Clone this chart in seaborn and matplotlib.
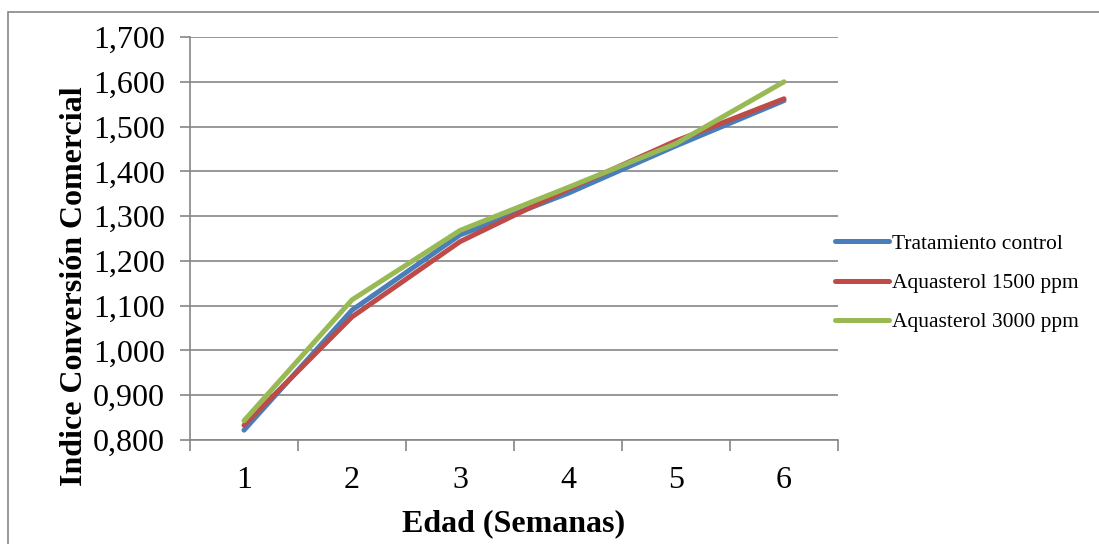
import matplotlib
matplotlib.use("Agg")
import matplotlib.pyplot as plt
import matplotlib.ticker as mticker
from matplotlib.patches import Rectangle
from matplotlib.lines import Line2D
import seaborn as sns
import pandas as pd

weeks = [1, 2, 3, 4, 5, 6]
series_names = ["Tratamiento control", "Aquasterol 1500 ppm", "Aquasterol 3000 ppm"]
control = [0.822, 1.090, 1.258, 1.351, 1.457, 1.558]
aq1500 = [0.833, 1.075, 1.243, 1.360, 1.468, 1.562]
aq3000 = [0.843, 1.113, 1.268, 1.364, 1.462, 1.600]
colors = ["#4A7EBB", "#BE4B48", "#98B954"]
y_ticks = [0.8, 0.9, 1.0, 1.1, 1.2, 1.3, 1.4, 1.5, 1.6, 1.7]

rows = []
for name, vals in zip(series_names, [control, aq1500, aq3000]):
    for w, v in zip(weeks, vals):
        rows.append({"Semana": w, "Valor": v, "Serie": name})
df = pd.DataFrame(rows)

sns.set_theme(style="white")
plt.rcParams["font.family"] = ["Liberation Serif", "DejaVu Serif"]
plt.rcParams["text.color"] = "black"
plt.rcParams["axes.labelcolor"] = "black"
plt.rcParams["xtick.color"] = "black"
plt.rcParams["ytick.color"] = "black"

fig = plt.figure(figsize=(10.99, 5.44), dpi=100)
ax = fig.add_axes([190/1099, 1-440/544, (838-190)/1099, (440-37)/544])

sns.lineplot(data=df, x="Semana", y="Valor", hue="Serie", palette=colors,
             hue_order=series_names, linewidth=3.6, ax=ax, legend=False,
             solid_capstyle="round", solid_joinstyle="round")

ax.set_xlim(0.5, 6.5)
ax.set_ylim(0.8, 1.7)
ax.set_yticks(y_ticks)
ax.yaxis.set_major_formatter(mticker.FuncFormatter(lambda v, p: f"{v:.3f}".replace(".", ",")))
ax.set_xticks([0.5 + i for i in range(7)])
ax.set_xticklabels([])
ax.set_xticks(weeks, minor=True)
ax.set_xticklabels([str(w) for w in weeks], minor=True)
ax.tick_params(axis="x", which="minor", length=0, pad=19, labelsize=23, labelcolor="black")
ax.tick_params(axis="x", which="major", length=8, width=1.2, color="#868686", direction="out", bottom=True)
ax.tick_params(axis="y", length=7, width=1.2, color="#868686", direction="out", left=True, pad=11,
               labelsize=23, labelcolor="black")

ax.grid(axis="y", color="#868686", linewidth=1.2)
ax.grid(axis="x", visible=False)
ax.set_axisbelow(True)
for s in ["top", "right"]:
    ax.spines[s].set_visible(False)
for s in ["left", "bottom"]:
    ax.spines[s].set_color("#868686")
    ax.spines[s].set_linewidth(1.2)

ax.set_xlabel("Edad (Semanas)", fontsize=23, fontweight="bold", labelpad=10, color="black")
ax.set_ylabel("Indice Conversión Comercial", fontsize=23, fontweight="bold", labelpad=3, color="black")
ax.yaxis.label.set_y(0.382)

handles = [Line2D([0], [0], color=c, linewidth=3.6, solid_capstyle="round") for c in colors]
fig.legend(handles, series_names, loc="center left", bbox_to_anchor=(816/1099, 1-283/544),
           frameon=False, fontsize=15.5, handlelength=2.5, handletextpad=0.15, labelspacing=0.9)

fig.add_artist(Rectangle((8/1099, -0.1), 1.2, 1-12/544+0.1, transform=fig.transFigure,
                         fill=False, edgecolor="#868686", linewidth=1.2))

fig.savefig("out.png", dpi=100)
